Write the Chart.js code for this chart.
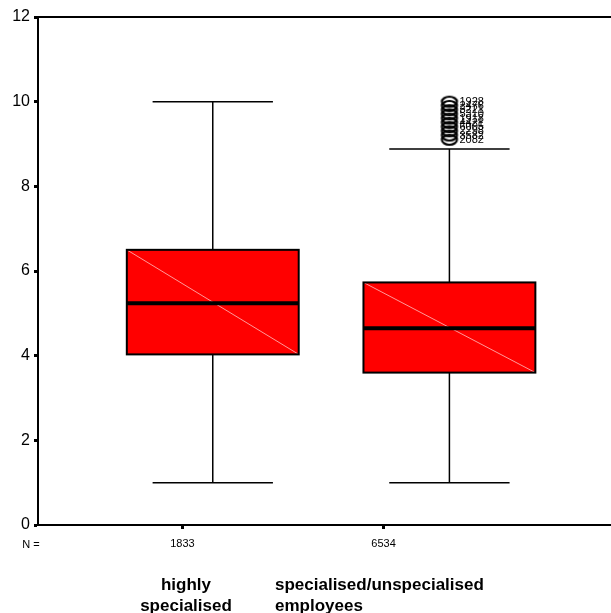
<!DOCTYPE html>
<html>
<head>
<meta charset="utf-8">
<script src="https://cdn.jsdelivr.net/npm/chart.js@4.4.1/dist/chart.umd.min.js"></script>
<style>
  body { margin: 0; background: #fff; }
</style>
</head>
<body>
<canvas id="boxChart" width="611" height="613"></canvas>
<script>
// data
const groupLines = [['highly', 'specialised'], ['specialised/unspecialised', 'employees']];
const groupN = ['1833', '6534'];
const whiskerLow = [1.0, 1.0];
const q1 = [4.03, 3.6];
const median = [5.24, 4.65];
const q3 = [6.5, 5.73];
const whiskerHigh = [10.0, 8.88];
const outlierValues = [10.0, 9.9, 9.8, 9.7, 9.6, 9.5, 9.4, 9.3, 9.2, 9.1];
const outlierCases = ['1928', '2476', '3221', '5310', '1918', '4421', '6005', '2298', '3582', '2082'];
const yTicks = [0, 2, 4, 6, 8, 10, 12];

// layout (x scale runs 0..10 across the plot)
const boxX = [3.05, 7.18];
const nTickX = [2.52, 6.03];
const boxWidth = 3.0;
const capWidth = 2.1;

// open ellipse used for the outlier marks
const ring = document.createElement('canvas');
ring.width = 20;
ring.height = 14;
const rc = ring.getContext('2d');
rc.strokeStyle = '#000';
rc.lineWidth = 2.2;
rc.beginPath();
rc.ellipse(10, 7, 7.5, 5, 0, 0, Math.PI * 2);
rc.stroke();

const boxPlugin = {
    id: 'boxPlugin',
    beforeDatasetsDraw(chart) {
        const ctx = chart.ctx;
        const x = chart.scales.x;
        const y = chart.scales.y;
        const area = chart.chartArea;

        // top frame line
        ctx.save();
        ctx.strokeStyle = '#000';
        ctx.lineWidth = 2;
        ctx.beginPath();
        ctx.moveTo(area.left, area.top);
        ctx.lineTo(area.right, area.top);
        ctx.stroke();

        for (let i = 0; i < boxX.length; i++) {
            const cx = x.getPixelForValue(boxX[i]);
            const left = x.getPixelForValue(boxX[i] - boxWidth / 2);
            const right = x.getPixelForValue(boxX[i] + boxWidth / 2);
            const capL = x.getPixelForValue(boxX[i] - capWidth / 2);
            const capR = x.getPixelForValue(boxX[i] + capWidth / 2);
            const yLo = y.getPixelForValue(whiskerLow[i]);
            const yHi = y.getPixelForValue(whiskerHigh[i]);
            const yQ1 = y.getPixelForValue(q1[i]);
            const yQ3 = y.getPixelForValue(q3[i]);
            const yMed = y.getPixelForValue(median[i]);

            // whiskers
            ctx.strokeStyle = '#000';
            ctx.lineWidth = 1.5;
            ctx.beginPath();
            ctx.moveTo(cx, yHi);
            ctx.lineTo(cx, yQ3);
            ctx.moveTo(cx, yQ1);
            ctx.lineTo(cx, yLo);
            ctx.moveTo(capL, yHi);
            ctx.lineTo(capR, yHi);
            ctx.moveTo(capL, yLo);
            ctx.lineTo(capR, yLo);
            ctx.stroke();

            // box
            ctx.fillStyle = '#ff0000';
            ctx.fillRect(left, yQ3, right - left, yQ1 - yQ3);
            ctx.strokeStyle = 'rgba(255,170,170,0.9)';
            ctx.lineWidth = 1;
            ctx.beginPath();
            ctx.moveTo(left, yQ3);
            ctx.lineTo(right, yQ1);
            ctx.stroke();
            ctx.strokeStyle = '#000';
            ctx.lineWidth = 2;
            ctx.strokeRect(left, yQ3, right - left, yQ1 - yQ3);

            // median
            ctx.lineWidth = 4;
            ctx.beginPath();
            ctx.moveTo(left, yMed);
            ctx.lineTo(right, yMed);
            ctx.stroke();
        }
        ctx.restore();
    },
    afterDatasetsDraw(chart) {
        const ctx = chart.ctx;
        const x = chart.scales.x;
        const y = chart.scales.y;
        ctx.save();
        ctx.fillStyle = '#000';

        // case numbers next to the outliers
        ctx.font = '11px "Liberation Sans", Arial, sans-serif';
        ctx.textAlign = 'left';
        ctx.textBaseline = 'middle';
        const ox = x.getPixelForValue(boxX[1]) + 10;
        for (let i = 0; i < outlierValues.length; i++) {
            ctx.fillText(outlierCases[i], ox, y.getPixelForValue(outlierValues[i]));
        }

        // N = and group names under the axis
        ctx.font = '11px "Liberation Sans", Arial, sans-serif';
        ctx.textAlign = 'center';
        ctx.textBaseline = 'alphabetic';
        ctx.fillText('N =', 31, 548);

        ctx.font = 'bold 17px "Liberation Sans", Arial, sans-serif';
        ctx.textAlign = 'center';
        ctx.fillText(groupLines[0][0], 186, 590);
        ctx.fillText(groupLines[0][1], 186, 611);
        ctx.textAlign = 'left';
        ctx.fillText(groupLines[1][0], 275, 590);
        ctx.fillText(groupLines[1][1], 275, 611);
        ctx.restore();
    }
};

const ctx = document.getElementById('boxChart').getContext('2d');
const boxChart = new Chart(ctx, {
    type: 'scatter',
    data: {
        datasets: [{
            label: 'outliers',
            data: outlierValues.map(v => ({ x: boxX[1], y: v })),
            pointStyle: ring,
            pointRadius: 7,
            pointHoverRadius: 7
        }]
    },
    options: {
        responsive: false,
        animation: false,
        layout: {
            autoPadding: false,
            padding: { top: 17, left: 0, right: 0, bottom: 0 }
        },
        plugins: {
            legend: { display: false },
            tooltip: { enabled: false }
        },
        scales: {
            x: {
                type: 'linear',
                min: 0,
                max: 10,
                afterBuildTicks: (scale) => {
                    scale.ticks = nTickX.map(v => ({ value: v }));
                },
                afterFit: (scale) => {
                    scale.height = 88;
                    scale.paddingLeft = 0;
                    scale.paddingRight = 0;
                },
                ticks: {
                    color: '#000',
                    font: { size: 11, family: '"Liberation Sans", Arial, sans-serif' },
                    padding: 8,
                    maxRotation: 0,
                    autoSkip: false,
                    callback: (value, index) => groupN[index]
                },
                grid: {
                    drawOnChartArea: false,
                    tickLength: 4,
                    tickWidth: 3,
                    tickColor: '#000'
                },
                border: { color: '#000', width: 2 }
            },
            y: {
                min: 0,
                max: 12,
                afterBuildTicks: (scale) => {
                    scale.ticks = yTicks.map(v => ({ value: v }));
                },
                afterFit: (scale) => { scale.width = 38; },
                ticks: {
                    color: '#000',
                    font: { size: 16, family: '"Liberation Sans", Arial, sans-serif' },
                    padding: 4
                },
                grid: {
                    drawOnChartArea: false,
                    tickLength: 4,
                    tickWidth: 3,
                    tickColor: '#000'
                },
                border: { color: '#000', width: 2 }
            }
        }
    },
    plugins: [boxPlugin]
});
</script>
</body>
</html>
